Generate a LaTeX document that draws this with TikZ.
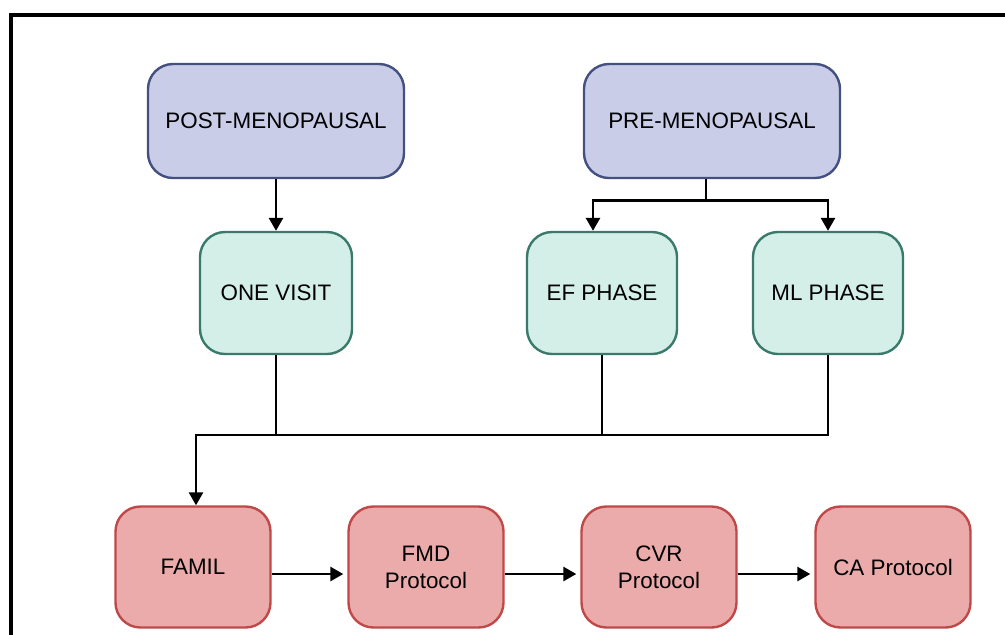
\documentclass[tikz,border=0pt]{standalone}
\usepackage{fontspec}
\setmainfont{Liberation Sans}
\usetikzlibrary{arrows.meta, positioning}

\definecolor{grpfill}{HTML}{C9CDE8}
\definecolor{grpline}{HTML}{44507F}
\definecolor{visfill}{HTML}{D3EFE8}
\definecolor{visline}{HTML}{3A7A6A}
\definecolor{profill}{HTML}{EBABAB}
\definecolor{proline}{HTML}{BF4848}

\begin{document}
\begin{tikzpicture}[
        x = 0.5pt, y = -0.5pt,
        node distance = 86pt,
        on grid,
        >= {Triangle[width = 7pt, length = 6.5pt]},
        line width = 1.4pt,
        box/.style = {rectangle, rounded corners = 12.5pt, line width = 1.2pt,
                      align = center, font = \fontsize{11.2}{13.5}\selectfont},
        groupbox/.style = {box, draw = grpline, fill = grpfill, minimum width = 128pt, minimum height = 57pt},
        visitbox/.style = {box, draw = visline, fill = visfill, minimum width = 76pt, minimum height = 61pt},
        protobox/.style = {box, draw = proline, fill = profill, minimum width = 77.5pt, minimum height = 60.5pt}
    ]

      \clip (0,0) rectangle (1005,634);
      \draw[line width = 1.7pt] (11,15) rectangle (1060,700);

      \node[groupbox] (post) at (276,121) {POST-MENOPAUSAL};
      \node[groupbox] (pre)  [right = 218pt of post] {PRE-MENOPAUSAL};

      \node[visitbox] (one) [below = of post] {ONE VISIT};
      \node[visitbox, minimum width = 75pt] (ef) [below left = 86pt and 55pt of pre] {EF PHASE};
      \node[visitbox, minimum width = 75pt] (ml) [below right = 86pt and 58pt of pre] {ML PHASE};

      \node[protobox] (famil) at (193,567) {FAMIL};
      \node[protobox] (fmd) [right = 116.5pt of famil] {FMD\\Protocol};
      \node[protobox] (cvr) [right = 116.5pt of fmd] {CVR\\Protocol};
      \node[protobox] (ca)  [right = 117pt of cvr] {CA Protocol};

      % top branches
      \draw[->] (post) -- (one);
      \coordinate (split) at ([xshift = -3pt, yshift = -10.5pt]pre.south);
      \draw ([xshift = -3pt]pre.south) -- (split);
      \draw[->] (split) -| ([xshift = -4.5pt]ef.north);
      \draw[->] (split) -| (ml.north);

      % merge into FAMIL
      \coordinate (bus) at (0,435);
      \draw (one.south) -- (one.south |- bus);
      \draw (ef.south) -- (ef.south |- bus);
      \draw[->] (ml.south) -- (ml.south |- bus) -| ([xshift = 1.5pt]famil.north);

      \foreach \a/\b in {famil/fmd, fmd/cvr, cvr/ca}
          \draw[->, shorten >= 2pt] ([yshift = -3.5pt]\a.east) -- ([yshift = -3.5pt]\b.west);

    \end{tikzpicture}
\end{document}
